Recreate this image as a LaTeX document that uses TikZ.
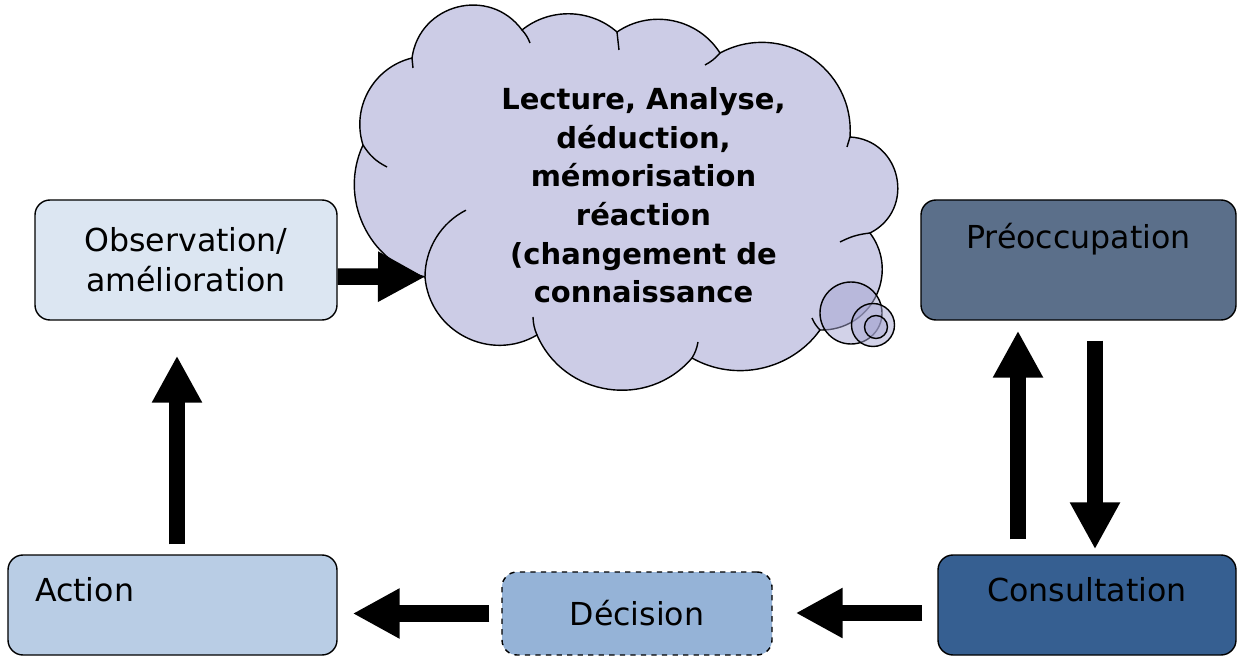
\documentclass[tikz,border=0pt]{standalone}
\usepackage{fontspec}
\setmainfont{DejaVu Sans}
\usepackage{tikz}
\usetikzlibrary{positioning,arrows.meta,calc}
\definecolor{obsblue}{HTML}{DCE6F2}
\definecolor{preoblue}{HTML}{5B6F8A}
\definecolor{consblue}{HTML}{365F91}
\definecolor{actblue}{HTML}{B9CDE5}
\definecolor{decblue}{HTML}{95B3D7}
\definecolor{cloudlav}{HTML}{CCCCE6}
\definecolor{bubblelav}{HTML}{A6A6D2}

\begin{document}
\begin{tikzpicture}[
  box/.style={draw, line width=0.8pt, rounded corners=0.3cm, inner sep=0pt,
    font=\fontsize{18}{22.7}\selectfont},
  bigarrow/.style={line width=0.33cm, -{Triangle[width=0.94cm,length=0.94cm]}},
  bubble/.style={draw, line width=0.8pt, circle, fill=bubblelav, fill opacity=0.5, inner sep=0pt}
]
\useasboundingbox (0,0) rectangle (24.76,-13.14);

% Cloud outline, puff by puff
\coordinate (p1) at (7.26,-2.90);
\coordinate (p2) at (8.24,-1.16);
\coordinate (p3) at (10.44,-0.60);
\coordinate (p4) at (12.34,-0.64);
\coordinate (p5) at (14.40,-1.06);
\coordinate (p6) at (17.00,-2.74);
\coordinate (p7) at (17.40,-4.66);
\coordinate (p8) at (16.40,-6.60);
\coordinate (p9) at (13.84,-7.16);
\coordinate (p10) at (10.74,-6.70);
\coordinate (cin) at (8.50,-5.54);
\draw[line width=0.8pt, fill=cloudlav]
  (p1) to[bend left=47, looseness=1.01] (p2)
  to[bend left=68, looseness=1.24] (p3)
  to[bend left=40, looseness=0.96] (p4)
  to[bend left=46, looseness=1.00] (p5)
  to[bend left=61, looseness=1.15] (p6)
  to[bend left=75, looseness=1.35] (p7)
  to[bend left=64, looseness=1.19] (p8)
  to[bend left=42, looseness=0.97] (p9)
  to[bend left=58, looseness=1.11] (p10)
  to[bend left=58, looseness=1.11] (cin)
  to[bend left=50, looseness=1.03] (p1) -- cycle;
% inner strokes of the cloud
\draw[line width=0.8pt] (p1) to[bend right=15] (7.74,-3.34);
\draw[line width=0.8pt] (p2) -- (8.26,-1.36);
\draw[line width=0.8pt] (p3) to[bend left=10] (10.60,-0.86);
\draw[line width=0.8pt] (p4) -- (12.38,-1.0);
\draw[line width=0.8pt] (p5) to[bend left=10] (14.10,-1.30);
\draw[line width=0.8pt] (p6) -- (16.94,-2.94);
\draw[line width=0.8pt] (p7) to[bend right=10] (16.80,-4.84);
\draw[line width=0.8pt] (p8) to[bend left=10] (16.24,-6.36);
\draw[line width=0.8pt] (p9) to[bend right=10] (13.96,-6.84);
\draw[line width=0.8pt] (p10) to[bend left=10] (10.66,-6.34);
\draw[line width=0.8pt] (cin) arc[start angle=180, end angle=117, radius=1.5cm];

\node[align=center, font=\bfseries\fontsize{16.5}{22}\selectfont] (thinktxt) at (12.87,-3.91)
  {Lecture, Analyse,\\déduction,\\mémorisation\\réaction\\(changement de\\connaissance};
\node[bubble, minimum size=1.24cm] (bub1) at (17.02,-6.26) {};
\node[bubble, minimum size=0.86cm] (bub2) at (17.46,-6.5) {};
\node[bubble, minimum size=0.46cm] (bub3) at (17.52,-6.54) {};

% Boxes
\node[box, fill=obsblue, minimum width=6.04cm, minimum height=2.4cm, align=center]
  (obs) at (3.72,-5.2) {Observation/\\amélioration};
\node[box, fill=preoblue, minimum width=6.3cm, minimum height=2.4cm,
  text height=0.98cm, text depth=1.42cm] (preo) at (21.57,-5.2) {Préoccupation};
\node[box, fill=consblue, minimum width=5.96cm, minimum height=2cm,
  text height=0.92cm, text depth=1.08cm] (cons) at (21.74,-12.1) {Consultation};
\node[box, fill=actblue, minimum width=6.58cm, minimum height=2cm, inner xsep=0.54cm,
  text width=5.5cm, align=left, text height=0.92cm, text depth=1.08cm]
  (act) at (3.45,-12.1) {Action};
\node[box, dashed, fill=decblue, minimum width=5.4cm, minimum height=1.66cm]
  (dec) at (12.74,-12.27) {Décision};

% Arrows
\draw[bigarrow] ([yshift=-0.33cm]obs.east) -- (cin);
\draw[bigarrow, shorten <=0.2cm, shorten >=0.7cm]
  ([xshift=0.09cm]act.north) -- ([xshift=0.09cm]act.north |- obs.south);
\draw[bigarrow, shorten <=0.3cm, shorten >=0.2cm]
  ([xshift=-1.38cm]cons.north) -- ([xshift=-1.38cm]cons.north |- preo.south);
\draw[bigarrow, shorten <=0.4cm, shorten >=0.1cm]
  ([xshift=0.33cm]preo.south) -- ([xshift=0.33cm]preo.south |- cons.north);
\draw[bigarrow, shorten <=0.3cm, shorten >=0.46cm]
  ([yshift=-0.16cm]cons.west) -- ([yshift=-0.16cm]cons.west -| dec.east);
\draw[bigarrow, shorten <=0.24cm, shorten >=0.3cm]
  (dec.west) -- (dec.west -| act.east);
\end{tikzpicture}
\end{document}
